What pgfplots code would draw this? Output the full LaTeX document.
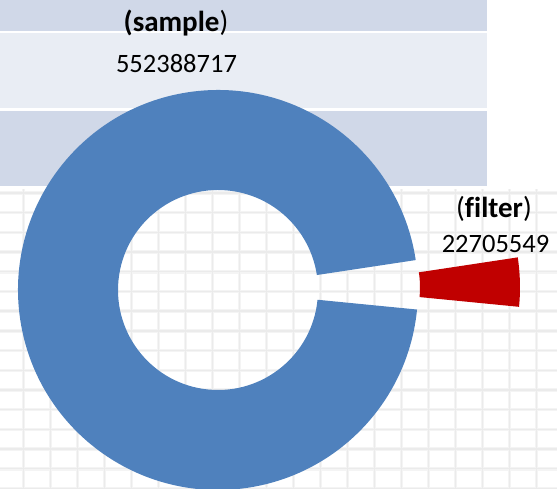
\documentclass[border=0pt]{standalone}
\usepackage{pgfplots}
\pgfplotsset{compat=1.18}
\usepackage{fontspec}
\setmainfont{Carlito}[Ligatures={NoCommon}]
\definecolor{donutblue}{HTML}{4F81BD}
\definecolor{donutred}{HTML}{C00000}
\definecolor{banddark}{HTML}{D0D8E8}
\definecolor{bandlight}{HTML}{E9EDF4}
\definecolor{gridgray}{HTML}{EBEBEB}
\definecolor{gridlight}{HTML}{F4F4F4}
% data (values)
\def\valSample{552.388717}% millions
\def\valFilter{22.705549}% millions
\pgfmathsetmacro\h{180*\valFilter/(\valSample+\valFilter)}
\pgfmathsetmacro\m{1.5}
\pgfmathsetmacro\ao{\m+\h}
\pgfmathsetmacro\au{\m-\h}
\pgfmathsetmacro\aue{\m-\h+360}
\begin{document}
\begin{tikzpicture}[x=1pt,y=1pt]
\useasboundingbox (0,0) rectangle (557,489);
\clip (0,0) rectangle (557,489);
% background grid
\foreach \i in {0,...,19}{\pgfmathsetmacro\xx{23.7+27*\i}\draw[gridlight,line width=3.5pt] (\xx,0) -- (\xx,300);}
\foreach \j in {0,...,15}{\pgfmathsetmacro\yy{0.5+19.7*\j}\draw[gridlight,line width=3.5pt] (0,\yy) -- (557,\yy);}
\foreach \i in {0,...,19}{\pgfmathsetmacro\xx{23.7+27*\i}\draw[gridgray,line width=1.4pt] (\xx,0) -- (\xx,300);}
\foreach \j in {0,...,15}{\pgfmathsetmacro\yy{0.5+19.7*\j}\draw[gridgray,line width=1.4pt] (0,\yy) -- (557,\yy);}
% bands
\fill[white] (0,300) rectangle (557,489);
\fill[banddark] (0,458.3) rectangle (487,489);
\fill[bandlight] (0,381) rectangle (487,456);
\fill[banddark] (0,303) rectangle (487,378);
\begin{axis}[at={(0,0)},anchor=south west,scale only axis,
  width=557pt,height=489pt,xmin=0,xmax=557,ymin=0,ymax=489,
  hide axis,clip=false]
\fill[donutblue] ([shift={(\ao:200pt)}]axis cs:218,199) arc[start angle=\ao,end angle=\aue,radius=200pt]
   -- ([shift={(\au:100pt)}]axis cs:218,199) arc[start angle=\aue,end angle=\ao,radius=100pt] -- cycle;
\fill[donutred] ([shift={(\au:200pt)}]axis cs:320,201.7) arc[start angle=\au,end angle=\ao,radius=200pt]
   -- ([shift={(\ao:100pt)}]axis cs:320,201.7) arc[start angle=\ao,end angle=\au,radius=100pt] -- cycle;
\node[font=\fontsize{29}{33}\selectfont] at (axis cs:176,465.5) {\textbf{(sample})};
\node[font=\fontsize{26.5}{30}\selectfont] at (axis cs:176.5,425) {552388717};
\node[font=\fontsize{29}{33}\selectfont] at (axis cs:494,280) {(\textbf{filter})};
\node[font=\fontsize{26.5}{30}\selectfont] at (axis cs:495.5,245) {22705549};
\end{axis}
\end{tikzpicture}
\end{document}
